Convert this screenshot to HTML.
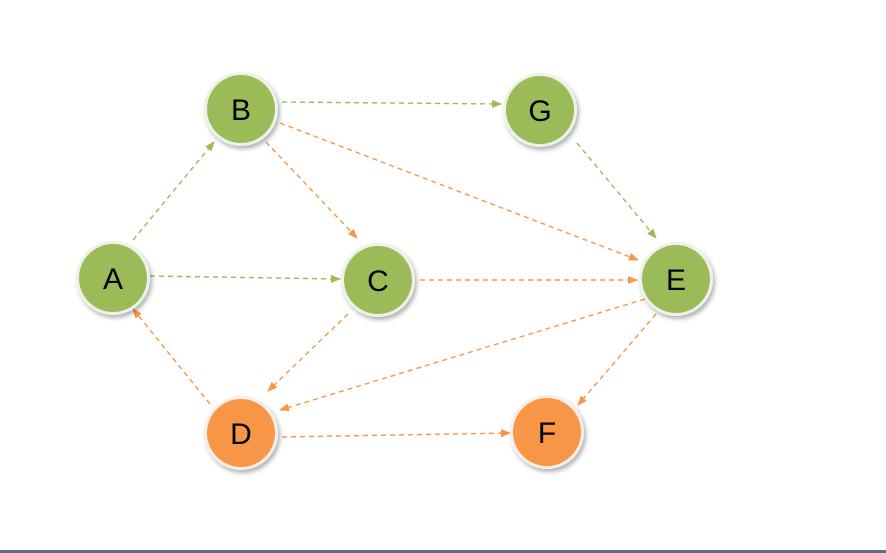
<!DOCTYPE html>
<html><head><meta charset="utf-8"><style>
html,body{margin:0;padding:0;background:#fff;width:886px;height:553px;overflow:hidden}
</style></head><body>
<svg width="886" height="553" viewBox="0 0 886 553" xmlns="http://www.w3.org/2000/svg">
<defs>
<marker id="ag" markerWidth="10" markerHeight="8" refX="9" refY="4" orient="auto" markerUnits="userSpaceOnUse"><path d="M0,0 L10,4 L0,8 z" fill="#9bbb59"/></marker>
<marker id="ao" markerWidth="10" markerHeight="8" refX="9" refY="4" orient="auto" markerUnits="userSpaceOnUse"><path d="M0,0 L10,4 L0,8 z" fill="#f79646"/></marker>
<filter id="sh" x="-30%" y="-30%" width="160%" height="160%"><feDropShadow dx="2" dy="3" stdDeviation="2" flood-color="#000" flood-opacity="0.3"/></filter>
</defs>
<rect x="0" y="550" width="886" height="3" fill="#5f7080"/>
<g fill="none" stroke-width="1.4" stroke-dasharray="5,4">
<g stroke="#9bbb59">
<line x1="133" y1="240" x2="214" y2="142" marker-end="url(#ag)"/>
<line x1="150" y1="276" x2="340" y2="279" marker-end="url(#ag)"/>
<line x1="282" y1="102" x2="501" y2="104" marker-end="url(#ag)"/>
<line x1="577" y1="143" x2="656" y2="238" marker-end="url(#ag)"/>
</g>
<g stroke="#f79646">
<line x1="266" y1="142" x2="357" y2="238" marker-end="url(#ao)"/>
<line x1="280" y1="123" x2="638" y2="260" marker-end="url(#ao)"/>
<line x1="420" y1="280" x2="637" y2="280" marker-end="url(#ao)"/>
<line x1="348" y1="314" x2="268" y2="391" marker-end="url(#ao)"/>
<line x1="645" y1="299" x2="280" y2="410" marker-end="url(#ao)"/>
<line x1="656" y1="314" x2="578" y2="405" marker-end="url(#ao)"/>
<line x1="210" y1="404" x2="133" y2="309" marker-end="url(#ao)"/>
<line x1="282" y1="437" x2="510" y2="433" marker-end="url(#ao)"/>
</g>
</g>
<g font-family="Liberation Sans, sans-serif" font-size="30" text-anchor="middle" fill="#000">
<g filter="url(#sh)">
<circle cx="113" cy="278" r="37" fill="#eef2e6"/>
<circle cx="241" cy="109" r="37" fill="#eef2e6"/>
<circle cx="540" cy="110" r="37" fill="#eef2e6"/>
<circle cx="378" cy="280" r="37" fill="#eef2e6"/>
<circle cx="676" cy="279" r="37" fill="#eef2e6"/>
<circle cx="241" cy="433" r="37" fill="#f7efe6"/>
<circle cx="547" cy="432" r="37" fill="#f7efe6"/>
</g>
<circle cx="113" cy="278" r="34" fill="#9bbb59"/>
<circle cx="241" cy="109" r="34" fill="#9bbb59"/>
<circle cx="540" cy="110" r="34" fill="#9bbb59"/>
<circle cx="378" cy="280" r="34" fill="#9bbb59"/>
<circle cx="676" cy="279" r="34" fill="#9bbb59"/>
<circle cx="241" cy="433" r="34" fill="#f79646"/>
<circle cx="547" cy="432" r="34" fill="#f79646"/>
<text x="113" y="289">A</text>
<text x="241" y="120">B</text>
<text x="540" y="121">G</text>
<text x="378" y="291">C</text>
<text x="676" y="290">E</text>
<text x="241" y="444">D</text>
<text x="547" y="443">F</text>
</g>
</svg>
</body></html>
